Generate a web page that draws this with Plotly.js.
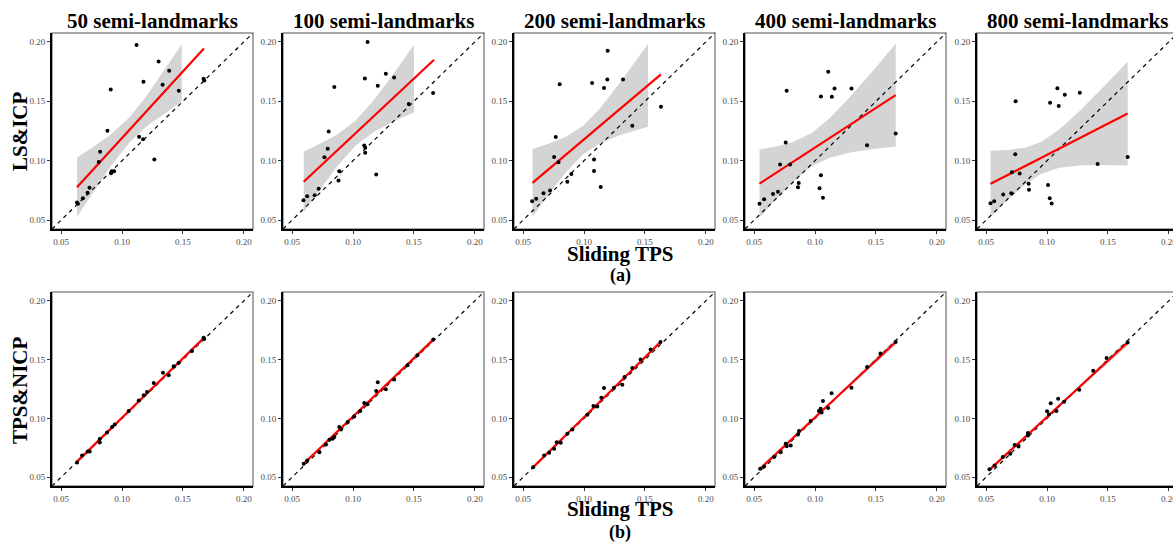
<!DOCTYPE html>
<html>
<head>
<meta charset="utf-8">
<script src="https://cdn.plot.ly/plotly-3.0.1.min.js"></script>
<style>
html,body{margin:0;padding:0;overflow:hidden;background:#fff;}
#chart{width:1180px;height:545px;}
</style>
</head>
<body>
<div id="chart"></div>
<script>
// ---------- text ----------
const panelTitles = ["50 semi-landmarks","100 semi-landmarks","200 semi-landmarks","400 semi-landmarks","800 semi-landmarks"];
const rowLabels = ["LS&ICP","TPS&NICP"];
const xLabel = "Sliding TPS";
const rowTags = ["(a)","(b)"];
const tickVals = [0.05,0.10,0.15,0.20];
const tickText = ["0.05","0.10","0.15","0.20"];

// ---------- row (a): LS&ICP vs Sliding TPS ----------
const ls50x = [0.1119,0.130,0.1387,0.1669,0.1675,0.1176,0.1333,0.0907,0.1466,0.088,0.114,0.1173,0.082,0.0809,0.1265,0.0915,0.0935,0.091,0.0733,0.0717,0.0679,0.063,0.0638];
const ls50y = [0.1975,0.1836,0.1757,0.169,0.1675,0.1664,0.1639,0.160,0.1588,0.1253,0.1202,0.118,0.1075,0.0988,0.101,0.0912,0.0912,0.0895,0.0773,0.0731,0.0683,0.0649,0.0638];
const ls100x = [0.1119,0.1269,0.1337,0.1097,0.1203,0.0846,0.1657,0.1457,0.080,0.0792,0.0765,0.1092,0.110,0.110,0.0887,0.0881,0.119,0.0718,0.0685,0.0623,0.0593];
const ls100y = [0.200,0.1733,0.170,0.1691,0.1631,0.162,0.1569,0.1478,0.1246,0.110,0.103,0.1127,0.111,0.1067,0.0911,0.0834,0.0883,0.0763,0.071,0.0701,0.0667];
const ls200x = [0.1194,0.1066,0.1191,0.132,0.1164,0.080,0.1631,0.1396,0.0768,0.0754,0.079,0.1082,0.1082,0.1137,0.0896,0.0863,0.0721,0.0667,0.0607,0.0574];
const ls200y = [0.1926,0.1655,0.1683,0.1683,0.1612,0.1643,0.1454,0.1295,0.120,0.1032,0.0987,0.101,0.0913,0.0778,0.0888,0.0823,0.075,0.0727,0.0679,0.0659];
const ls400x = [0.1108,0.0767,0.116,0.1299,0.1048,0.1138,0.1662,0.1427,0.0759,0.0713,0.0795,0.1048,0.0866,0.086,0.1037,0.1065,0.0696,0.0655,0.0582,0.0544];
const ls400y = [0.1749,0.1588,0.1608,0.1608,0.154,0.1538,0.123,0.1129,0.1154,0.0968,0.0968,0.0878,0.0813,0.0776,0.0768,0.0689,0.0739,0.072,0.0675,0.0638];
const ls800x = [0.1085,0.1269,0.1146,0.1025,0.1096,0.0742,0.1662,0.1415,0.0739,0.0712,0.0775,0.0849,0.0852,0.1008,0.1022,0.1038,0.064,0.0706,0.0566,0.0536];
const ls800y = [0.161,0.1573,0.1556,0.1488,0.146,0.150,0.1032,0.0973,0.1055,0.0902,0.0893,0.0806,0.0755,0.0795,0.0684,0.0639,0.0715,0.0727,0.0659,0.0642];

const lsFitX = [[0.063,0.1672],[0.0595,0.1665],[0.0577,0.1631],[0.0544,0.1662],[0.0536,0.1662]];
const lsFitY = [[0.0776,0.1944],[0.0823,0.185],[0.0814,0.1726],[0.0807,0.1552],[0.0806,0.1397]];
const lsBandX = [
  [0.063,0.075,0.09,0.106,0.12,0.135,0.149],
  [0.0595,0.072,0.087,0.102,0.117,0.133,0.15],
  [0.0577,0.072,0.086,0.0995,0.113,0.13,0.1525],
  [0.0544,0.068,0.082,0.097,0.112,0.13,0.148,0.1662],
  [0.0536,0.068,0.082,0.095,0.11,0.128,0.147,0.1662]];
const lsBandLo = [
  [0.0526,0.0716,0.0944,0.1153,0.1287,0.1397,0.150],
  [0.0568,0.0748,0.0954,0.1126,0.1242,0.1329,0.1407],
  [0.0529,0.0730,0.0913,0.1056,0.1147,0.1216,0.1285],
  [0.0519,0.0677,0.0825,0.0951,0.1025,0.1071,0.1099,0.1120],
  [0.0529,0.0674,0.0800,0.0888,0.0941,0.0962,0.0964,0.0960]];
const lsBandHi = [
  [0.1026,0.1106,0.1214,0.1363,0.1543,0.1769,0.198],
  [0.1078,0.1138,0.1220,0.1336,0.1508,0.1727,0.1977],
  [0.1099,0.1146,0.1205,0.1296,0.1439,0.1664,0.1983],
  [0.1095,0.1119,0.1157,0.1231,0.1357,0.1551,0.1763,0.1984],
  [0.1083,0.1090,0.1110,0.1158,0.1263,0.1432,0.1628,0.1834]];

// ---------- row (b): TPS&NICP vs Sliding TPS ----------
const tn50x = [0.0631,0.0672,0.0719,0.0735,0.0817,0.0817,0.0877,0.0918,0.094,0.1055,0.1137,0.1178,0.1205,0.126,0.1336,0.1383,0.1424,0.1464,0.1574,0.1669,0.1675];
const tn50y = [0.0625,0.0685,0.0719,0.0719,0.0824,0.0795,0.0881,0.0926,0.0949,0.1063,0.1153,0.1196,0.1224,0.130,0.1389,0.1367,0.1443,0.1472,0.1574,0.1685,0.1676];
const tn100x = [0.0595,0.0623,0.0724,0.0778,0.0806,0.0833,0.0846,0.0887,0.0901,0.0956,0.101,0.1059,0.1092,0.1119,0.119,0.1203,0.1269,0.1337,0.1447,0.1528,0.1659];
const tn100y = [0.0614,0.0642,0.0713,0.0778,0.0818,0.0827,0.0841,0.0926,0.0906,0.0969,0.1017,0.1063,0.1131,0.112,0.1233,0.1307,0.1247,0.133,0.1452,0.1537,0.167];
const tn200x = [0.0582,0.0672,0.0713,0.0754,0.0776,0.0809,0.0863,0.0904,0.1027,0.1077,0.1109,0.1142,0.1164,0.1246,0.1314,0.1333,0.1396,0.1464,0.1546,0.1628];
const tn200y = [0.0585,0.0685,0.0707,0.0741,0.0798,0.0793,0.0869,0.0906,0.1031,0.1105,0.1102,0.1176,0.1258,0.1261,0.1287,0.1352,0.1429,0.150,0.1585,0.165];
const tn400x = [0.0549,0.0582,0.0664,0.0718,0.0759,0.0767,0.080,0.086,0.0868,0.0964,0.1032,0.1046,0.1054,0.1065,0.1108,0.1136,0.1299,0.1427,0.1537,0.1662];
const tn400y = [0.0571,0.0591,0.0671,0.0713,0.0784,0.0764,0.077,0.0864,0.0892,0.0977,0.1063,0.1082,0.1051,0.1148,0.1088,0.1213,0.1261,0.1438,0.1551,0.165];
const tn800x = [0.0527,0.0569,0.0637,0.0698,0.0734,0.0766,0.0843,0.0843,0.100,0.1016,0.103,0.1077,0.1091,0.114,0.1264,0.1379,0.1489,0.1662];
const tn800y = [0.0568,0.0599,0.0671,0.0699,0.0773,0.0761,0.0875,0.0855,0.106,0.1034,0.1128,0.1063,0.1168,0.1142,0.1244,0.1406,0.1514,0.1645];

const tnFitX = [[0.0626,0.1675],[0.0595,0.1659],[0.0582,0.1628],[0.0549,0.1662],[0.0527,0.1662]];
const tnFitY = [[0.0628,0.1688],[0.0614,0.167],[0.0585,0.165],[0.0571,0.165],[0.0562,0.1645]];
const tnBandX = [[0.0626,0.115,0.1675],[0.0595,0.1127,0.1659],[0.0582,0.1105,0.1628],[0.0549,0.1105,0.1662],[0.0527,0.1095,0.1662]];
const tnBandLo = [[0.0613,0.1151,0.1670],[0.0599,0.1135,0.1652],[0.0570,0.1111,0.1630],[0.0553,0.1102,0.1622],[0.0544,0.1096,0.1617]];
const tnBandHi = [[0.0643,0.1165,0.1706],[0.0629,0.1149,0.1688],[0.0600,0.1125,0.1670],[0.0589,0.1118,0.1678],[0.0580,0.1112,0.1673]];

const lsPts = [[ls50x,ls50y],[ls100x,ls100y],[ls200x,ls200y],[ls400x,ls400y],[ls800x,ls800y]];
const tnPts = [[tn50x,tn50y],[tn100x,tn100y],[tn200x,tn200y],[tn400x,tn400y],[tn800x,tn800y]];

// ---------- layout geometry (px) ----------
const W = 1180, H = 545;
const panelLeft = [52,283,514,745,977];
const panelW = 201;
const rowTop = [33,292];
const rowBot = [229,486];
const axRange = [0.0425,0.2075];

const traces = [];
const layout = {
  width: W, height: H,
  margin: {l:0,r:0,t:0,b:0},
  paper_bgcolor:'#fff', plot_bgcolor:'#fff',
  showlegend:false,
  annotations:[], shapes:[]
};
const serif = 'Liberation Serif, Times New Roman, serif';

function addPanel(k, col, row, pts, fx, fy, bx, blo, bhi){
  const xa = 'x'+(k===1?'':k), ya = 'y'+(k===1?'':k);
  const xKey = 'xaxis'+(k===1?'':k), yKey = 'yaxis'+(k===1?'':k);
  const common = {
    range: axRange, tickvals: tickVals, ticktext: tickText,
    ticks:'outside', ticklen:3, tickwidth:1, tickcolor:'#333',
    showline:true, linecolor:'#000', linewidth:2,
    showgrid:false, zeroline:false, fixedrange:true,
    tickfont:{family:serif, size:9, color:'#4d4d4d'}
  };
  layout[xKey] = Object.assign({}, common, {
    domain:[panelLeft[col]/W, (panelLeft[col]+panelW)/W], anchor: ya
  });
  layout[yKey] = Object.assign({}, common, {
    domain:[1-rowBot[row]/H, 1-rowTop[row]/H], anchor: xa
  });
  layout.shapes.push({type:'rect', xref:xa+' domain', yref:ya+' domain', x0:0,x1:1,y0:0,y1:1,
    line:{color:'#8c8c8c', width:1.5}, layer:'below'});
  // confidence band
  traces.push({x:bx, y:blo, xaxis:xa, yaxis:ya, mode:'lines', line:{width:0,color:'rgba(0,0,0,0)'}, hoverinfo:'skip'});
  traces.push({x:bx, y:bhi, xaxis:xa, yaxis:ya, mode:'lines', line:{width:0,color:'rgba(0,0,0,0)'}, fill:'tonexty', fillcolor:'#d4d4d4', hoverinfo:'skip'});
  // identity line
  traces.push({x:axRange, y:axRange, xaxis:xa, yaxis:ya, mode:'lines', line:{color:'#000', width:1.2, dash:'4px,4px'}, hoverinfo:'skip'});
  // fit
  traces.push({x:fx, y:fy, xaxis:xa, yaxis:ya, mode:'lines', line:{color:'#ff0000', width:2.2}});
  // points
  traces.push({x:pts[0], y:pts[1], xaxis:xa, yaxis:ya, mode:'markers', marker:{color:'#000', size:4}});
}

for (let c=0;c<5;c++){
  addPanel(c+1, c, 0, lsPts[c], lsFitX[c], lsFitY[c], lsBandX[c], lsBandLo[c], lsBandHi[c]);
  addPanel(c+6, c, 1, tnPts[c], tnFitX[c], tnFitY[c], tnBandX[c], tnBandLo[c], tnBandHi[c]);
}

function ann(text, xpx, ypx, size, angle){
  layout.annotations.push({text:'<b>'+text+'</b>', xref:'paper', yref:'paper',
    x:xpx/W, y:1-ypx/H, xanchor:'center', yanchor:'middle', showarrow:false,
    borderpad:0, textangle: angle||0, font:{family:serif, size:size, color:'#000'}});
}
for (let c=0;c<5;c++) ann(panelTitles[c], panelLeft[c]+panelW/2, 21, 21);
ann(rowLabels[0], 20, 131, 21, -90);
ann(rowLabels[1], 20, 390, 21, -90);
ann(xLabel, 620, 254, 21);
ann(rowTags[0], 620, 275, 18);
ann(xLabel, 620, 509, 21);
ann(rowTags[1], 620, 532, 18);

Plotly.newPlot('chart', traces, layout, {displayModeBar:false, staticPlot:true});
</script>
</body>
</html>
